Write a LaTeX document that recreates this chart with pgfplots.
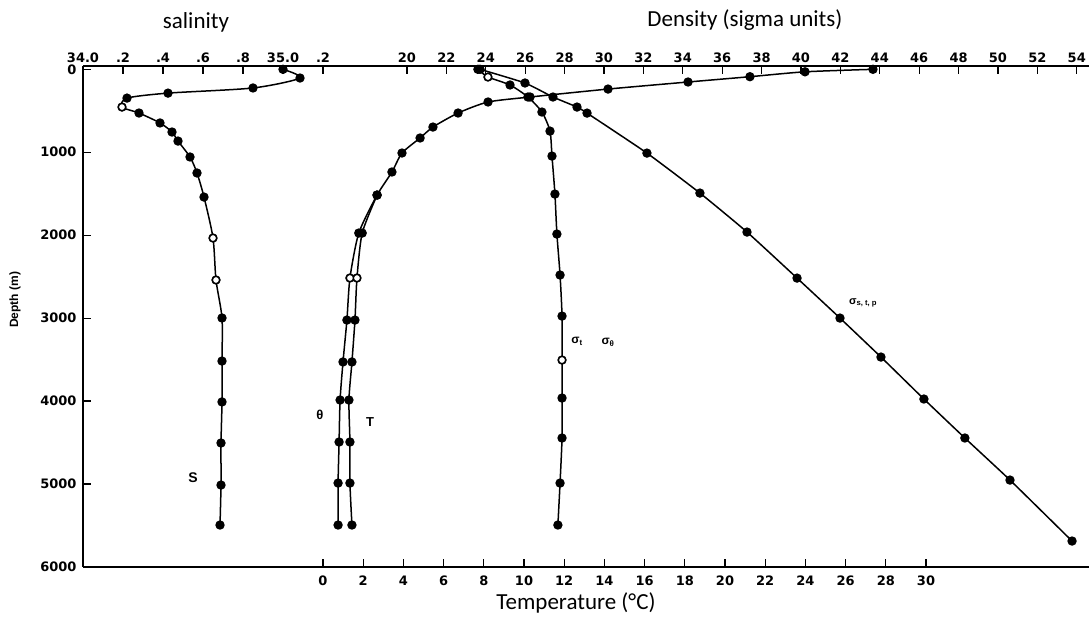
\documentclass[border=0pt]{standalone}
\usepackage{fontspec}
\setmainfont{Carlito}
\newfontfamily\tickfont{DejaVu Sans}
\newfontfamily\lblfont{Liberation Sans}
\usepackage{pgfplots}
\pgfplotsset{compat=1.18}
\pgfplotsset{
  base/.style={
    at={(83pt,50pt)}, anchor=south west, scale only axis,
    width=1006pt, height=501pt,
    ymin=-40, ymax=6000, y dir=reverse,
    tick align=inside,
    major tick length=8pt,
    tick style={line width=1.3pt, black},
    axis line style={-, line width=1.8pt},
    ticklabel style={font=\tickfont\bfseries\fontsize{13}{13}\selectfont},
    /pgf/number format/assume math mode=true,
    /pgf/number format/set thousands separator={},
    clip=false,
  },
  curve/.style={black, line width=1.5pt, mark=*, mark size=3.9pt, mark options={solid, fill=black}},
  open/.style={only marks, mark=*, mark size=3.6pt, mark options={fill=white, draw=black, line width=1.2pt}},
}
\begin{document}
\begin{tikzpicture}[x=1pt,y=1pt]
\path[use as bounding box] (0,0) rectangle (1089,617);
% ---------- temperature / depth axis ----------
\begin{axis}[base,
  axis x line*=bottom, axis y line*=left,
  xmin=-11.94, xmax=38.11,
  xtick={0,2,...,30},
  ytick={0,1000,2000,3000,4000,5000,6000},
  xticklabel style={yshift=-5pt},
  yticklabel style={xshift=-3pt},
  xlabel={Temperature (°C)},
  xlabel style={at={(axis description cs:0.49,-0.072)}, anchor=center, font=\fontsize{23}{23}\selectfont},
  ylabel={\lblfont\bfseries Depth (m)},
  ylabel style={at={(axis description cs:-0.0676,0.533)}, anchor=center, font=\fontsize{12}{12}\selectfont},
]
% potential temperature theta
\addplot[curve, smooth, tension=0.4] coordinates {
(27.36,0) (23.98,30) (21.24,89) (18.16,153) (14.18,238) (10.3,334) (8.21,394) (6.72,527) (5.47,696) (4.83,828) (3.93,1009) (3.43,1238) (2.69,1516) (1.78,1974) (1.34,2516) (1.19,3023) (0.995,3528) (0.85,3987) (0.80,4493) (0.75,4988) (0.75,5494)
};
% in situ temperature T
\addplot[curve, smooth, tension=0.4] coordinates {
(2.69,1516) (1.95,1974) (1.69,2516) (1.59,3023) (1.44,3528) (1.29,3987) (1.34,4493) (1.34,4988) (1.44,5494)
};
\addplot[open] coordinates {(1.34,2516) (1.69,2516)};
\node[font=\lblfont\bfseries\fontsize{13}{13}\selectfont] at (axis cs:-0.15,4167) {θ};
\node[font=\lblfont\bfseries\fontsize{13}{13}\selectfont] at (axis cs:2.34,4252) {T};
\node[font=\lblfont\bfseries\fontsize{14}{14}\selectfont] at (axis cs:-6.47,4927) {S};
\node[font=\lblfont\bfseries\fontsize{12}{12}\selectfont] at (axis cs:12.64,3275) {σ\textsubscript{t}};
\node[font=\lblfont\bfseries\fontsize{12}{12}\selectfont] at (axis cs:14.18,3288) {σ\textsubscript{θ}};
\node[font=\lblfont\bfseries\fontsize{11}{11}\selectfont] at (axis cs:26.87,2817) {σ\textsubscript{s, t, p}};
\end{axis}
% ---------- salinity axis (top) ----------
\begin{axis}[base,
  axis x line*=top, axis y line=none,
  xmin=34, xmax=39.03,
  xtick={34,34.2,34.4,34.6,34.8,35,35.2},
  xticklabels={34.0,.2,.4,.6,.8,35.0,.2},
]
\addplot[curve, smooth, tension=0.45] coordinates {
(35.00,0) (35.085,105) (34.85,225) (34.425,287) (34.22,347) (34.195,455) (34.28,527) (34.385,647) (34.445,756) (34.475,865) (34.535,1057) (34.57,1250) (34.605,1540) (34.65,2034) (34.665,2540) (34.695,2998) (34.695,3517) (34.695,4010) (34.69,4505) (34.69,5012) (34.685,5494)
};
\addplot[open] coordinates {(34.195,455) (34.65,2034) (34.665,2540)};
\node[font=\fontsize{23}{23}\selectfont] at (axis description cs:0.1123,1.088) {salinity};
\end{axis}
% ---------- density axis (top) ----------
\begin{axis}[base,
  axis x line*=top, axis y line=none,
  xmin=3.553, xmax=54.62,
  xtick={20,22,...,54},
]
% sigma_t / sigma_theta
\addplot[curve, smooth, tension=0.4] coordinates {
(23.6,0) (24.11,93) (25.23,189) (26.14,334) (26.85,515) (27.26,745) (27.36,1046) (27.51,1504) (27.61,1986) (27.77,2480) (27.87,2975) (27.87,3505) (27.87,3963) (27.87,4445) (27.77,4988) (27.66,5494)
};
\addplot[open] coordinates {(24.11,93) (27.87,3505)};
% sigma_{s,t,p}
\addplot[curve, smooth, tension=0.3] coordinates {
(23.71,0) (25.99,165) (27.41,334) (28.63,455) (29.14,528) (32.18,1010) (34.87,1492) (37.26,1962) (39.80,2517) (41.98,2999) (44.06,3469) (46.24,3975) (48.32,4445) (50.61,4952) (53.76,5687)
};
\node[font=\fontsize{23}{23}\selectfont] at (axis description cs:0.658,1.092) {Density (sigma units)};
\end{axis}
\end{tikzpicture}
\end{document}
